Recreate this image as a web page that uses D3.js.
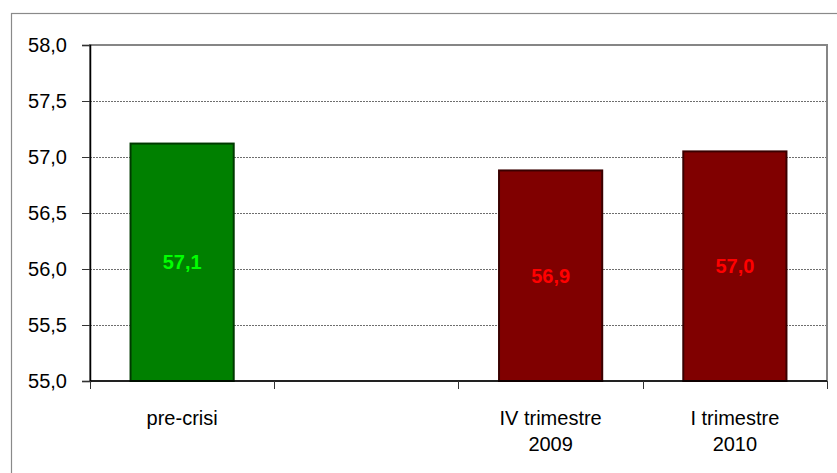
<!DOCTYPE html>
<html>
<head>
<meta charset="utf-8">
<script src="https://cdn.jsdelivr.net/npm/d3@7"></script>
<style>
  html, body { margin: 0; padding: 0; background: #fff; }
  svg { display: block; font-family: "Liberation Sans", Arial, sans-serif; }
</style>
</head>
<body>
<svg id="chart" width="837" height="473"></svg>
<script>
// ---- data ----
const categories = ["pre-crisi", " ", "IV trimestre|2009", "I trimestre|2010"];
const values = [57.12, null, 56.88, 57.05];
const valueLabels = ["57,1", "", "56,9", "57,0"];
const barColors = ["#008000", null, "#800000", "#800000"];
const barStrokes = ["#003a00", null, "#3a0000", "#3a0000"];
const labelColors = ["#00ff00", null, "#ff0000", "#ff0000"];
const yTicks = [55.0, 55.5, 56.0, 56.5, 57.0, 57.5, 58.0];
const yTickLabels = ["55,0", "55,5", "56,0", "56,5", "57,0", "57,5", "58,0"];

// ---- layout ----
const svg = d3.select("#chart");
const W = 837, H = 473;
const plot = { left: 90, right: 827, top: 45, bottom: 381 };

// outer frame
svg.append("rect")
  .attr("x", 11.5).attr("y", 13.5)
  .attr("width", W + 10).attr("height", H + 10)
  .attr("fill", "#fff").attr("stroke", "#8a8a8a").attr("stroke-width", 1.2);

const x = d3.scaleBand()
  .domain(categories)
  .range([plot.left, plot.right])
  .paddingInner(0.44)
  .paddingOuter(0.22);

const y = d3.scaleLinear()
  .domain([yTicks[0], yTicks[yTicks.length - 1]])
  .range([plot.bottom, plot.top]);

// plot area border
svg.append("rect")
  .attr("x", plot.left).attr("y", plot.top)
  .attr("width", plot.right - plot.left).attr("height", plot.bottom - plot.top)
  .attr("fill", "#fff").attr("stroke", "#868686").attr("stroke-width", 2);

// gridlines
svg.append("g").selectAll("line")
  .data(yTicks.slice(1, -1))
  .join("line")
  .attr("x1", plot.left).attr("x2", plot.right - 1)
  .attr("y1", d => Math.round(y(d)) + 0.5).attr("y2", d => Math.round(y(d)) + 0.5)
  .attr("stroke", "#6e6e6e").attr("stroke-width", 1)
  .attr("stroke-dasharray", "2,1");

// bars
const bars = categories.map((c, i) => ({ c, v: values[i], i })).filter(d => d.v !== null);
svg.append("g").selectAll("rect")
  .data(bars)
  .join("rect")
  .attr("x", d => x(d.c))
  .attr("y", d => y(d.v))
  .attr("width", x.bandwidth())
  .attr("height", d => y(yTicks[0]) - y(d.v))
  .attr("fill", d => barColors[d.i])
  .attr("stroke", d => barStrokes[d.i])
  .attr("stroke-width", 2);

// value labels
svg.append("g").selectAll("text")
  .data(bars)
  .join("text")
  .attr("x", d => x(d.c) + x.bandwidth() / 2)
  .attr("y", d => (y(d.v) + y(yTicks[0])) / 2)
  .attr("dy", "0.36em")
  .attr("text-anchor", "middle")
  .attr("font-size", 20).attr("font-weight", "bold")
  .attr("fill", d => labelColors[d.i])
  .text(d => valueLabels[d.i]);

// y axis
const yAxis = d3.axisLeft(y)
  .tickValues(yTicks)
  .tickFormat((d, i) => yTickLabels[i])
  .tickSize(8)
  .tickPadding(15);
const gy = svg.append("g").attr("transform", `translate(${plot.left},0)`).call(yAxis);
gy.select(".domain").attr("stroke", "#000").attr("stroke-width", 1.5);
gy.selectAll(".tick line").attr("stroke", "#333");
gy.selectAll(".tick text").attr("font-size", 20).attr("fill", "#000")
  .attr("font-family", "\"Liberation Sans\", Arial, sans-serif");

// x axis line and boundary ticks
svg.append("line")
  .attr("x1", plot.left).attr("x2", plot.right)
  .attr("y1", plot.bottom).attr("y2", plot.bottom)
  .attr("stroke", "#000").attr("stroke-width", 1.5);
const step = x.step();
const bounds = categories.map(c => x(c) - step * x.paddingInner() / 2).concat([plot.right]);
svg.append("g").selectAll("line")
  .data(bounds)
  .join("line")
  .attr("x1", d => Math.round(d) + 0.5).attr("x2", d => Math.round(d) + 0.5)
  .attr("y1", plot.bottom).attr("y2", plot.bottom + 8)
  .attr("stroke", "#333");

// category labels
const cl = svg.append("g").selectAll("text")
  .data(categories)
  .join("text")
  .attr("x", d => x(d) + x.bandwidth() / 2)
  .attr("y", 425)
  .attr("text-anchor", "middle")
  .attr("font-size", 20).attr("fill", "#000");
cl.each(function(d) {
  const lines = d.split("|");
  d3.select(this).selectAll("tspan")
    .data(lines)
    .join("tspan")
    .attr("x", x(d) + x.bandwidth() / 2)
    .attr("dy", (l, j) => j === 0 ? 0 : 25.5)
    .text(l => l);
});
</script>
</body>
</html>
